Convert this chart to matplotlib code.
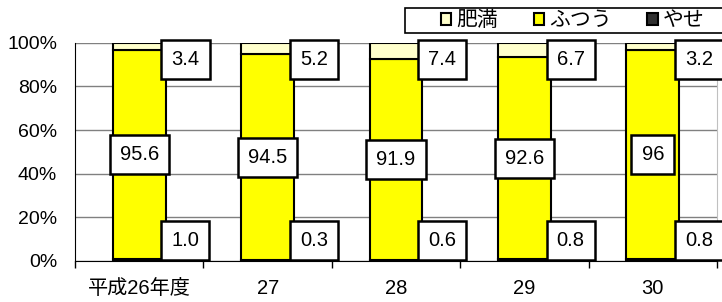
import matplotlib
matplotlib.use('Agg')

import numpy as np
import matplotlib.pyplot as plt
from matplotlib.patches import Patch, Rectangle

plt.rcParams['font.family'] = ['Liberation Sans', 'Noto Sans CJK JP']

# data (percent)
years = ['平成26年度', '27', '28', '29', '30']
yase = [1.0, 0.3, 0.6, 0.8, 0.8]
futsuu = [95.6, 94.5, 91.9, 92.6, 96]
himan = [3.4, 5.2, 7.4, 6.7, 3.2]
futsuu_txt = ['95.6', '94.5', '91.9', '92.6', '96']

fig = plt.figure(figsize=(7.22, 3.02), dpi=100)
ax = fig.add_axes([0.104, 0.136, 0.889, 0.722])

x = np.arange(len(years))
w = 0.41
yase = np.array(yase)
futsuu = np.array(futsuu)
himan = np.array(himan)

ax.bar(x, yase, w, color='#202020', edgecolor='black', linewidth=1.5, zorder=3)
ax.bar(x, futsuu, w, bottom=yase, color='#FFFF00', edgecolor='black',
       linewidth=1.5, zorder=3)
ax.bar(x, himan, w, bottom=yase + futsuu, color='#FFFFCC', edgecolor='black',
       linewidth=1.5, zorder=3)

box = dict(boxstyle='square,pad=0.5', facecolor='white', edgecolor='black',
           linewidth=1.8)
for i in range(len(years)):
    ax.text(x[i], yase[i] + futsuu[i] / 2, futsuu_txt[i], ha='center',
            va='center', fontsize=14.5, bbox=box, zorder=5)
    ax.text(x[i] + 0.36, 92.5, '%.1f' % himan[i], ha='center', va='center',
            fontsize=14.5, bbox=box, zorder=5, clip_on=False)
    ax.text(x[i] + 0.36, 9.5, '%.1f' % yase[i], ha='center', va='center',
            fontsize=14.5, bbox=box, zorder=5, clip_on=False)

ax.set_xlim(-0.5, len(years) - 0.5)
ax.set_ylim(0, 100)
ax.set_yticks([0, 20, 40, 60, 80, 100])
ax.set_yticklabels(['0%', '20%', '40%', '60%', '80%', '100%'], fontsize=14)
ax.yaxis.grid(True, color='#808080', linewidth=1)
ax.set_axisbelow(True)
ax.tick_params(axis='y', length=0, pad=13)

ax.set_xticks(np.arange(len(years) + 1) - 0.5)
ax.set_xticklabels([])
ax.set_xticks(x, minor=True)
ax.set_xticklabels(years, minor=True, fontsize=14.5)
ax.tick_params(axis='x', which='major', length=5, width=1, direction='out')
ax.tick_params(axis='x', which='minor', length=0, pad=13)

ax.spines['top'].set_visible(False)
ax.spines['right'].set_color('#c0c0c0')
ax.spines['left'].set_color('black')
ax.spines['bottom'].set_color('black')

# legend frame (runs off the right edge)
fig.patches.append(Rectangle((405 / 722, 1 - 33 / 302), 0.5, 25 / 302,
                             transform=fig.transFigure, facecolor='white',
                             edgecolor='black', linewidth=1.2, zorder=1))

handles = [Patch(facecolor='#FFFFCC', edgecolor='black', linewidth=1.5, label='肥満'),
           Patch(facecolor='#FFFF00', edgecolor='black', linewidth=1.5, label='ふつう'),
           Patch(facecolor='#303030', edgecolor='black', linewidth=1.5, label='やせ')]
leg = fig.legend(handles=handles, loc='center left',
                 bbox_to_anchor=(441 / 722, 1 - 20.5 / 302),
                 ncol=3, fontsize=15, frameon=False,
                 handlelength=0.5, handleheight=0.5, handletextpad=0.25,
                 columnspacing=1.7, borderpad=0, borderaxespad=0)

fig.savefig('out.png', dpi=100)
